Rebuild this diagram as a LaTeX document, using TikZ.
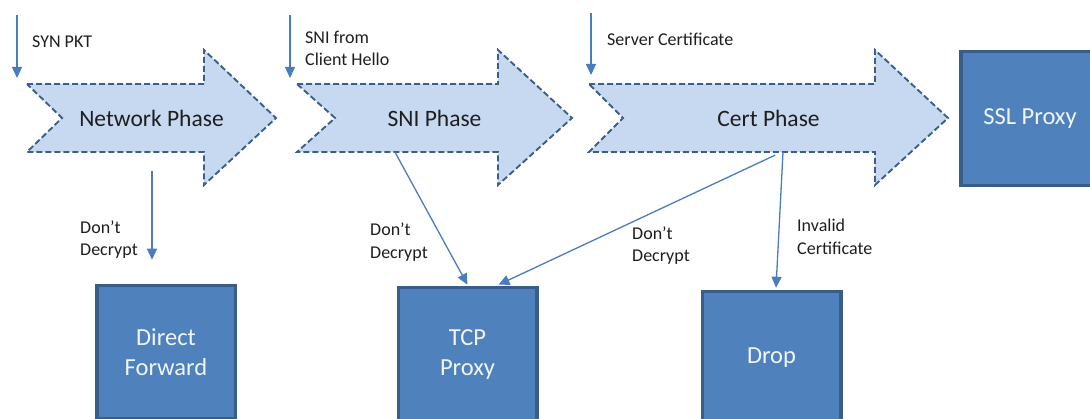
\documentclass[tikz,border=0pt]{standalone}
\usepackage{fontspec}
\setmainfont{Carlito}
\usetikzlibrary{arrows.meta, positioning, calc}
\definecolor{phaseFill}{HTML}{C6D9F1}
\definecolor{phaseLine}{HTML}{3B5E8C}
\definecolor{boxFill}{HTML}{4F81BD}
\definecolor{boxLine}{HTML}{385D8A}
\definecolor{linkBlue}{HTML}{4A7EBB}
\definecolor{textDark}{HTML}{1E1E1E}

\begin{document}
\begin{tikzpicture}[
    x=1pt, y=-1pt,
    phase/.style={draw=phaseLine, fill=phaseFill, line width=1.9pt,
                  dash pattern=on 6pt off 3pt, line join=miter},
    ptxt/.style={font=\fontsize{23.5}{26}\selectfont, text=textDark,
                 minimum height=68pt, inner sep=0pt},
    blk/.style={rectangle, draw=boxLine, fill=boxFill, line width=3.5pt,
                text=white!92!boxFill, font=\fontsize{24.5}{30}\selectfont,
                align=center, minimum width=138.5pt, inner sep=0pt},
    lbl/.style={font=\fontsize{18}{22.5}\selectfont, text=textDark,
                align=left, anchor=west, inner sep=0pt},
    link/.style={draw=linkBlue, line width=1.3pt,
                 -{Triangle[length=11pt, width=10pt]}},
  ]
    \useasboundingbox (0,0) rectangle (1090,419);
    \clip (0,0) rectangle (1090,419);

    % Phases
    \draw[phase] (27,84) -- (204,84) -- (204,50) -- (276,118) -- (204,185)
      -- (204,152) -- (27,152) -- (62,118) -- cycle;
    \node[ptxt] (net) at (151.5,118) {Network Phase};

    \draw[phase] (297,84) -- (498,84) -- (498,50) -- (572,118) -- (498,185)
      -- (498,152) -- (297,152) -- (335,118) -- cycle;
    \node[ptxt] (sni) at (434.5,118) {SNI Phase};

    \draw[phase] (589,84) -- (875,84) -- (875,50) -- (948,118) -- (875,185)
      -- (875,152) -- (589,152) -- (623,118) -- cycle;
    \node[ptxt] (cert) at (768.5,118) {Cert Phase};

    % Results
    \node[blk, minimum height=134pt] (ssl) at (1030,118.5) {SSL Proxy};
    \node[blk, minimum height=133pt] (fwd) at (166,352) {Direct\\Forward};
    \node[blk, minimum height=135pt] (tcp) at (467.5,355) {TCP\\Proxy};
    \node[blk, minimum height=133pt] (drop) at (771.5,358) {Drop};

    % Inputs
    \coordinate (synin) at (17,15);
    \coordinate (sniin) at (290,15);
    \coordinate (certin) at (591,13);
    \draw[link] (synin) -- ++(0,63);
    \draw[link] (sniin) -- ++(0,63);
    \draw[link] (certin) -- ++(0,62);
    \node[lbl] (synlbl) at (32,42) {SYN PKT};
    \node[lbl] (snilbl) at (305,48.5) {SNI from\\Client Hello};
    \node[lbl] (certlbl) at (607,39) {Server Certificate};

    % Decisions
    \draw[link] ($(net.south)+(0.5,19)$) -- ($(fwd.north)+(-14,-24)$);
    \draw[link] ($(sni.south)+(-39.5,0)$) -- ($(tcp.north)+(0,-1)$);
    \draw[link] ($(cert.south)+(6.5,3)$) -- ($(tcp.north)+(31,-1)$);
    \draw[link] ($(cert.south)+(14.5,0)$) -- ($(drop.north)+(4.5,-2)$);
    \node[lbl] (dd1) at (80,239.5) {Don’t\\Decrypt};
    \node[lbl] (dd2) at (370,242) {Don’t\\Decrypt};
    \node[lbl] (dd3) at (632,245.5) {Don’t\\Decrypt};
    \node[lbl] (inv) at (797,237) {Invalid\\Certificate};
  \end{tikzpicture}
\end{document}
